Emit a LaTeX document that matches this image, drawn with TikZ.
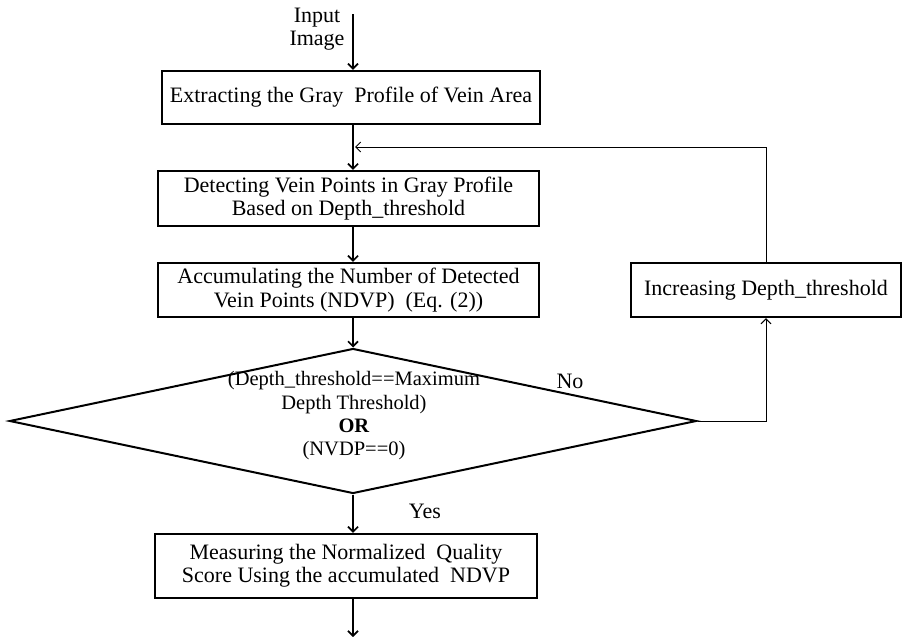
\documentclass[tikz,border=0pt]{standalone}
\usepackage{fontspec}
\setmainfont{Liberation Serif}
\usetikzlibrary{shapes.geometric,arrows.meta}

\tikzset{
  stepbox/.style={draw, line width=2.2pt, inner sep=0pt, align=center},
  decision/.style={draw, diamond, line width=2pt, inner sep=0pt, minimum width=687pt, minimum height=145pt},
  flow/.style={->, line width=1.7pt},
  loopline/.style={->, line width=1pt},
}

\begin{document}
\begin{tikzpicture}[x=1pt, y=-1pt, font=\fontsize{22}{23.3}\selectfont, >={Straight Barb[length=5pt,width=10pt]}]
        \useasboundingbox (0,0) rectangle (903,637);
        \node[align=center] (inp) at (317,29) {Input\\Image};
        \coordinate (top) at (353,14);
        \coordinate (join) at (355,147);
        \coordinate (out) at (353,637);
        \node[stepbox, minimum width=378pt, minimum height=53pt] (extract) at (351,97.5) {Extracting the Gray\ \ Profile of Vein Area};
        \node[stepbox, minimum width=381pt, minimum height=55pt] (detect) at (348.5,198.5) {Detecting Vein Points in Gray Profile\\Based on Depth\_threshold};
        \node[stepbox, minimum width=381pt, minimum height=54pt] (accum) at (348.5,290) {Accumulating the Number of Detected\\Vein Points (NDVP)\ \ (Eq. (2))};
        \node[stepbox, minimum width=270pt, minimum height=54pt] (incr) at (766,290) {Increasing Depth\_threshold};
        \node[decision] (check) at (353,421) {};
        \node[align=center, font=\fontsize{20.5}{23.3}\selectfont] (cond) at (354,416) {(Depth\_threshold==Maximum\\Depth Threshold)\\\textbf{OR}\\(NVDP==0)};
        \node (no) at (570,381) {No};
        \node (yes) at (425,511) {Yes};
        \node[stepbox, minimum width=382pt, minimum height=64pt] (measure) at (346,566) {Measuring the Normalized\ \ Quality\\Score Using the accumulated\ \ NDVP};
        \draw[flow] (top) -- (extract.north -| top);
        \draw[flow] (extract.south -| top) -- (detect.north -| top);
        \draw[flow] (detect.south -| top) -- (accum.north -| top);
        \draw[flow] (accum.south -| top) -- (check.north);
        \draw[flow] (check.south) -- (measure.north -| top);
        \draw[flow] (measure.south -| top) -- (out);
        \draw[loopline] (check.east) -| (incr.south);
        \draw[loopline] (incr.north) |- (join);
    \end{tikzpicture}
\end{document}
